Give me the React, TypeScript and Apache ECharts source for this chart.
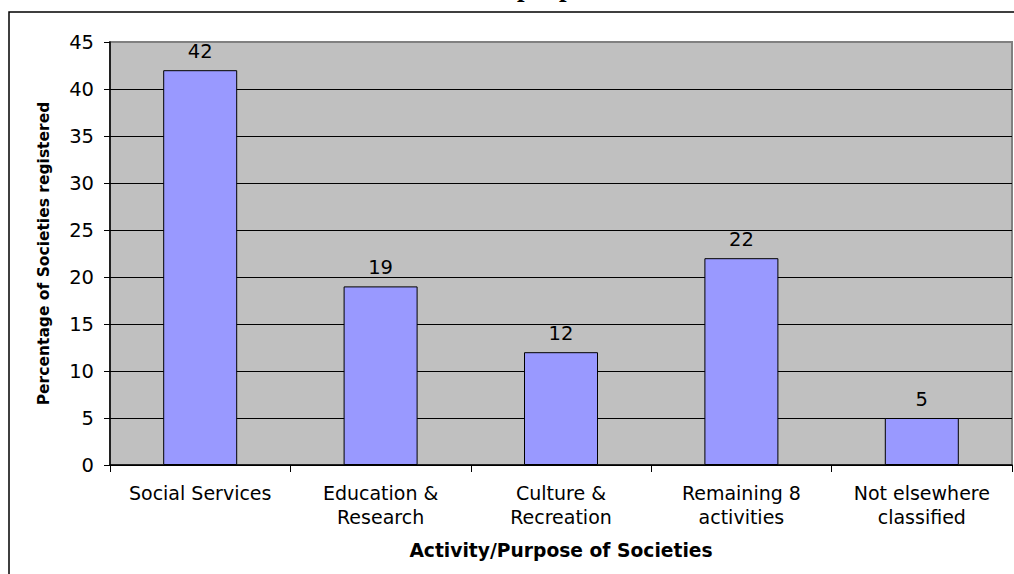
import React, { useEffect, useRef } from "react";
import * as echarts from "echarts";

const categories = [
  "Social Services",
  "Education &\nResearch",
  "Culture &\nRecreation",
  "Remaining 8\nactivities",
  "Not elsewhere\nclassified",
];
const percentages = [42, 19, 12, 22, 5];
const yTicks = { min: 0, max: 45, interval: 5 };
const xAxisTitle = "Activity/Purpose of Societies";
const yAxisTitle = "Percentage of Societies registered";
const chartTitle = "purpose";

const FONT = "'DejaVu Sans', 'Liberation Sans', Arial, sans-serif";

export default function App() {
  const ref = useRef<HTMLDivElement>(null);
  useEffect(() => {
    if (!ref.current) return;
    const chart = echarts.init(ref.current, null, { renderer: "svg" });
    const splitColors: string[] = [];
    for (let v = yTicks.min; v <= yTicks.max; v += yTicks.interval) {
      splitColors.push(v === yTicks.max ? "#808080" : "#000000");
    }
    chart.setOption({
      animation: false,
      backgroundColor: "#ffffff",
      textStyle: { fontFamily: FONT },
      graphic: [
        {
          type: "rect",
          shape: { x: 9, y: 12, width: 1020, height: 600 },
          style: { fill: "none", stroke: "#000", lineWidth: 1.5 },
          z: 100,
        },
        {
          type: "text",
          x: 517,
          y: 0,
          style: {
            text: chartTitle,
            font: "bold 27px 'Liberation Serif', 'Times New Roman', serif",
            fill: "#000",
            textAlign: "left",
            textVerticalAlign: "bottom",
          },
        },
      ],
      grid: {
        left: 110,
        top: 42,
        right: 2,
        bottom: 109,
        show: true,
        backgroundColor: "#C0C0C0",
        borderColor: "#808080",
        borderWidth: 2,
      },
      xAxis: {
        type: "category",
        data: categories,
        name: xAxisTitle,
        nameLocation: "middle",
        nameGap: 76,
        nameTextStyle: { fontSize: 18.7, fontWeight: "bold", color: "#000", fontFamily: FONT },
        axisLine: { show: true, lineStyle: { color: "#000", width: 1.5 } },
        axisTick: { show: true, alignWithLabel: false, interval: 0, length: 7, lineStyle: { color: "#000" } },
        axisLabel: {
          color: "#000",
          fontSize: 19,
          lineHeight: 24,
          margin: 16,
          fontFamily: FONT,
          interval: 0,
          hideOverlap: false,
        },
      },
      yAxis: {
        type: "value",
        min: yTicks.min,
        max: yTicks.max,
        interval: yTicks.interval,
        name: yAxisTitle,
        nameLocation: "middle",
        nameGap: 58,
        nameTextStyle: { fontSize: 15.5, fontWeight: "bold", color: "#000", fontFamily: FONT },
        axisLine: { show: true, lineStyle: { color: "#000", width: 1.5 } },
        axisTick: { show: true, inside: false, length: 6, lineStyle: { color: "#000" } },
        axisLabel: { color: "#000", fontSize: 19.5, margin: 16, fontFamily: FONT },
        splitLine: { show: true, lineStyle: { color: splitColors, width: 1.2 } },
      },
      series: [
        {
          type: "bar",
          data: percentages,
          barWidth: 74,
          itemStyle: { color: "#9999FF", borderColor: "#000", borderWidth: 1 },
          label: {
            show: true,
            position: "top",
            distance: 9,
            color: "#000",
            fontSize: 19.5,
            fontFamily: FONT,
          },
        },
      ],
    });
    return () => chart.dispose();
  }, []);
  return (
    <div
      ref={ref}
      style={{ position: "fixed", left: 0, top: 0, width: 1014, height: 574 }}
    />
  );
}
